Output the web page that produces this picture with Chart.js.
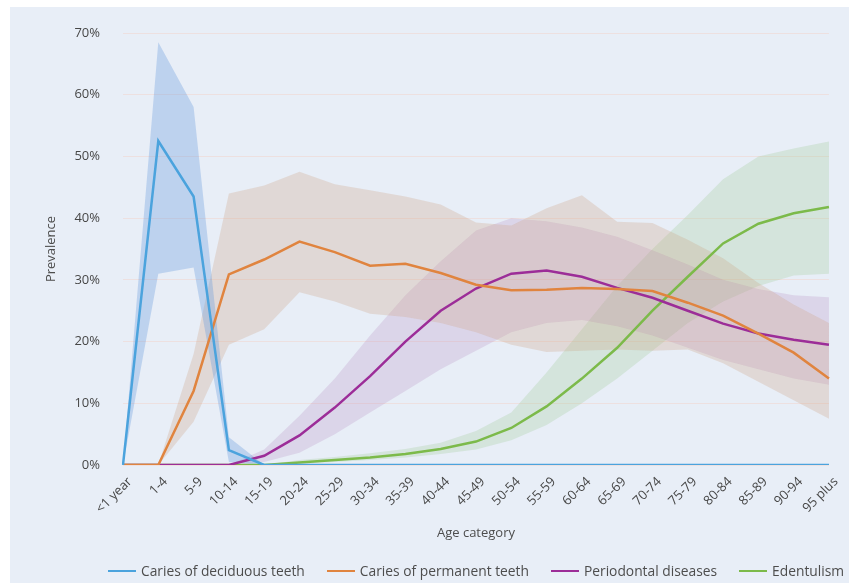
<!DOCTYPE html>
<html><head><meta charset="utf-8">
<script src="https://cdn.jsdelivr.net/npm/chart.js@4.4.1/dist/chart.umd.min.js"></script>
<style>
html,body{margin:0;padding:0;background:#fff;width:849px;height:583px;overflow:hidden;font-family:"Open Sans",sans-serif;}
#wrap{position:absolute;left:10px;top:7px;width:839px;height:576px;background:#e8eef7;}
#legend{position:absolute;left:108px;top:561px;white-space:nowrap;font:13.8px "Open Sans",sans-serif;color:#4d4d4d;}
#legend span.item{display:inline-block;margin-right:22px;}
#legend span.ln{display:inline-block;width:28px;height:0;border-top:2.5px solid;vertical-align:middle;margin-right:5px;position:relative;top:-1px;}
</style></head><body>
<div id="wrap"><canvas id="c" width="839" height="576"></canvas></div>
<div id="legend"></div>
<script>
const categories = ['<1 year','1-4','5-9','10-14','15-19','20-24','25-29','30-34','35-39','40-44','45-49','50-54','55-59','60-64','65-69','70-74','75-79','80-84','85-89','90-94','95 plus'];
const yTicks = [0,10,20,30,40,50,60,70];

const deciduous     = [0,52.5,43.5,2.4,0,0,0,0,0,0,0,0,0,0,0,0,0,0,0,0,0];
const deciduousHigh = [0,68.5,58,4.5,0,0,0,0,0,0,0,0,0,0,0,0,0,0,0,0,0];
const deciduousLow  = [0,31,32,0.5,0,0,0,0,0,0,0,0,0,0,0,0,0,0,0,0,0];

const permanent     = [0,0,12,30.9,33.3,36.2,34.5,32.3,32.6,31.1,29.2,28.3,28.4,28.7,28.5,28.2,26.3,24.2,21.3,18.2,14];
const permanentHigh = [0,0,18,44,45.3,47.5,45.5,44.5,43.5,42.2,39.3,38.8,41.6,43.7,39.4,39.2,36.5,33.5,29.5,26,23];
const permanentLow  = [0,0,7,19.5,22,28,26.5,24.5,24,23,21.5,19.5,18.3,18.5,18.7,18.5,18.7,16.5,13.5,10.5,7.5];

const periodontal     = [0,0,0,0,1.5,4.8,9.3,14.4,20,25,28.6,31,31.5,30.5,28.7,27.1,25,22.9,21.3,20.3,19.5];
const periodontalHigh = [0,0,0,0,2.5,8,14,21,27.5,33,38,40,39.5,38.5,37,34.8,32.5,30,28.5,27.5,27.2];
const periodontalLow  = [0,0,0,0,0.5,2,5,8.5,12,15.5,18.5,21.5,23,23.5,22.5,21,19,17,15.5,14,13];

const edentulism     = [0,0,0,0,0,0.4,0.8,1.2,1.8,2.6,3.8,6,9.5,14,19,25,30.5,35.9,39.1,40.8,41.8];
const edentulismHigh = [0,0,0,0,0,0.8,1.3,1.9,2.6,3.6,5.5,8.5,15,22,29,35,40.5,46.3,50,51.3,52.4];
const edentulismLow  = [0,0,0,0,0,0.2,0.5,0.8,1.2,1.8,2.5,4,6.5,10,14,18.5,23,26.5,29,30.7,31];

const seriesNames = ['Caries of deciduous teeth','Caries of permanent teeth','Periodontal diseases','Edentulism'];

const lineColors = ['#4ba3dd','#e0843f','#9c2d98','#7cba4a'];
const bandColors = ['rgba(91,146,218,0.30)','rgba(205,160,130,0.28)','rgba(170,115,180,0.20)','rgba(150,200,140,0.25)'];
const mids = [deciduous, permanent, periodontal, edentulism];
const highs = [deciduousHigh, permanentHigh, periodontalHigh, edentulismHigh];
const lows = [deciduousLow, permanentLow, periodontalLow, edentulismLow];

const datasets = [];
mids.forEach((m,i)=>{
  datasets.push({label:seriesNames[i], data:m, borderColor:lineColors[i], backgroundColor:lineColors[i], borderWidth:2.5, pointRadius:0, fill:false, tension:0, order:0});
});
highs.forEach((h,i)=>{
  datasets.push({label:'band'+i+'h', data:h, borderWidth:0, borderColor:'rgba(0,0,0,0)', pointRadius:0, backgroundColor:bandColors[i], fill:'+1', tension:0, order:1});
  datasets.push({label:'band'+i+'l', data:lows[i], borderWidth:0, borderColor:'rgba(0,0,0,0)', pointRadius:0, fill:false, tension:0, order:1});
});

const tickFont = {family:'"Open Sans", sans-serif', size:13};
new Chart(document.getElementById('c'), {
  type:'line',
  data:{labels:categories, datasets},
  options:{
    responsive:false, animation:false,
    layout:{padding:{left:0, right:14, top:26, bottom:24}},
    plugins:{legend:{display:false}, tooltip:{enabled:false}},
    scales:{
      x:{
        grid:{display:false, drawTicks:false},
        border:{display:false},
        ticks:{color:'#474747', font:tickFont, minRotation:45, maxRotation:45, padding:9, labelOffset:7, autoSkip:false},
        title:{display:true, text:'Age category', color:'#4d4d4d', font:tickFont, padding:{top:0,bottom:18}},
        afterFit:(s)=>{s.height=94;}
      },
      y:{
        min:0, max:70,
        afterBuildTicks:(s)=>{s.ticks = yTicks.map(v=>({value:v}));},
        grid:{color:'#ede0e0', drawTicks:false, lineWidth:1},
        border:{display:false},
        ticks:{color:'#474747', font:tickFont, padding:23, callback:(v)=>v+'%'},
        title:{display:true, text:'Prevalence', color:'#4d4d4d', font:tickFont, padding:{top:33,bottom:0}},
        afterFit:(s)=>{s.width=113; s.paddingTop=0; s.paddingBottom=0;}
      }
    }
  }
});

const lg = document.getElementById('legend');
seriesNames.forEach((n,i)=>{
  const it = document.createElement('span'); it.className='item';
  const ln = document.createElement('span'); ln.className='ln'; ln.style.borderTopColor=lineColors[i];
  it.appendChild(ln); it.appendChild(document.createTextNode(n));
  lg.appendChild(it);
});
</script>
</body></html>
